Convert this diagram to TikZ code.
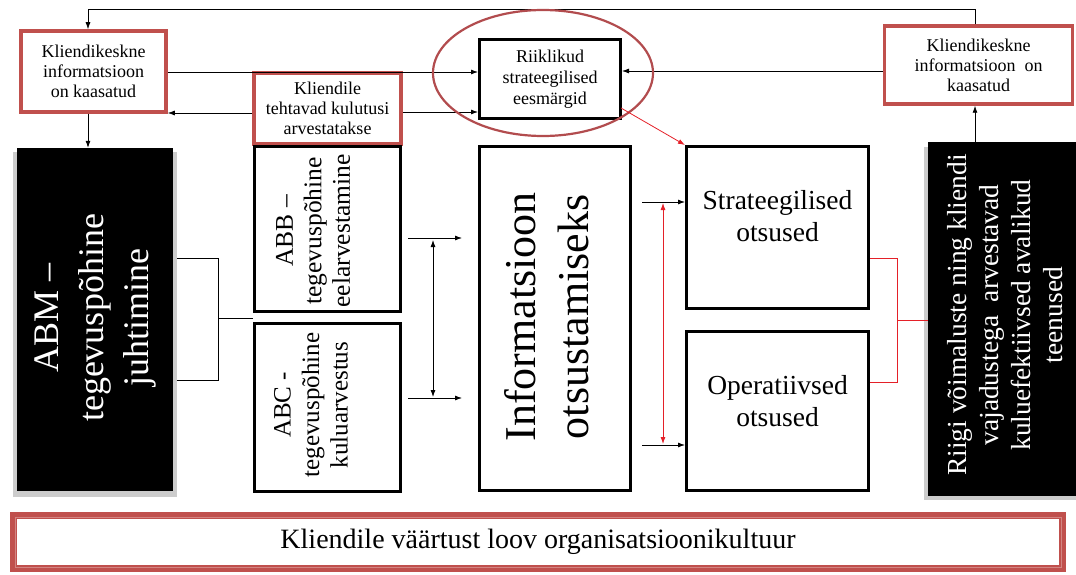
\documentclass[tikz,border=0pt]{standalone}
\usepackage{fontspec}
\setmainfont{Liberation Serif}
\usetikzlibrary{arrows.meta,shapes.geometric}
\definecolor{boxred}{RGB}{192,80,77}
\definecolor{ringred}{RGB}{178,76,78}
\definecolor{linkred}{RGB}{228,32,40}
\begin{document}
\begin{tikzpicture}[x=1pt,y=-1pt,
  redbox/.style={draw=boxred,line width=3.5pt,fill=white,align=center,inner sep=0pt,
    font=\fontsize{18}{20}\selectfont},
  blkbox/.style={draw=black,line width=3pt,fill=white,inner sep=0pt,align=center},
  darkbox/.style={draw=black,fill=black,inner sep=0pt},
  boxshade/.style={fill=black!20,draw=none},
  vtext/.style={rotate=90,align=center,inner sep=0pt},
  tip/.style={-{Latex[length=7pt,width=5pt]}},
  flow/.style={line width=0.8pt,tip},
  twoway/.style={line width=0.8pt,{Latex[length=7pt,width=5pt]}-{Latex[length=7pt,width=5pt]}},
  tie/.style={line width=0.8pt},
  redtie/.style={draw=linkred,line width=0.8pt},
  redtwoway/.style={draw=linkred,line width=0.8pt,
    {Latex[length=7pt,width=5pt]}-{Latex[length=7pt,width=5pt]}}
]
\useasboundingbox (0,0) rectangle (1076,575);

% ---------- top row ----------
\node[redbox,minimum width=145,minimum height=81] (lbox) at (93.5,71.5)
  {Kliendikeskne\\informatsioon\\on kaasatud};
\node[redbox,minimum width=188,minimum height=78] (rbox) at (978.5,65)
  {Kliendikeskne\\informatsioon\ \ on\\kaasatud};

% ---------- middle row: black boxes with shadows ----------
\fill[boxshade] (13,152) rectangle (177,497);
\node[darkbox,minimum width=155,minimum height=342] (abm) at (94.5,319) {};
\node[vtext,text=white,font=\fontsize{36}{45}\selectfont] (abmT) at (95,318)
  {ABM --\\tegevuspõhine\\juhtimine};

\fill[boxshade] (924,147) rectangle (1076,500);
\node[darkbox,minimum width=147,minimum height=353] (rblk) at (1001.5,318.5) {};
\node[vtext,text=white,font=\fontsize{27.5}{32}\selectfont] (rblkT) at (1005,315)
  {Riigi võimaluste ning kliendi\\vajadustega\ \ arvestavad\\kuluefektiivsed avalikud\\teenused};

% ---------- connectors (drawn under the boxes) ----------
\coordinate (topR) at (975,9);
\coordinate (topL) at (88,9);
\draw[flow] (rbox.north -| topR) -- (topR) -- (topL) -- (lbox.north -| topL);
\draw[flow] (lbox.south -| topL) -- (abm.north -| topL);

\node[redbox,minimum width=147,minimum height=71] (kbox) at (327.5,108.5)
  {Kliendile\\tehtavad kulutusi\\arvestatakse};
\node[blkbox,minimum width=141,minimum height=79,font=\fontsize{18}{21}\selectfont] (riik) at (550,79)
  {Riiklikud\\strateegilised\\eesmärgid};

\draw[flow] (lbox.east |- 0,72) -- (riik.west |- 0,72);
\draw[flow] (kbox.west |- 0,113) -- (lbox.east |- 0,113);
\draw[flow] (kbox.east |- 0,112) -- (riik.west |- 0,112);
\draw[flow] (rbox.west |- 0,71) -- (riik.east |- 0,71);
\draw[flow] (rblk.north -| topR) -- (rbox.south -| topR);

% ring round the national goals
\node[draw=ringred,line width=2.2pt,ellipse,minimum width=220,minimum height=126] (ring) at (543,73) {};

% ---------- activity based boxes ----------
\node[blkbox,minimum width=146,minimum height=165] (abb) at (327.5,229) {};
\node[vtext,font=\fontsize{25.5}{28.5}\selectfont] (abbT) at (313,231)
  {ABB --\\tegevuspõhine\\eelarvestamine};
\node[blkbox,minimum width=146,minimum height=168] (abc) at (327.5,407.5) {};
\node[vtext,font=\fontsize{25}{28.5}\selectfont] (abcT) at (311,405)
  {ABC -\\tegevuspõhine\\kuluarvestus};

\node[blkbox,minimum width=151,minimum height=344] (info) at (555,318.5) {};
\node[vtext,font=\fontsize{44}{53}\selectfont] (infoT) at (547,317)
  {Informatsioon\\otsustamiseks};

\node[blkbox,minimum width=182,minimum height=162] (strat) at (777.5,227.5) {};
\node[align=center,font=\fontsize{27.5}{32}\selectfont,inner sep=0pt] (stratT) at (777.5,216)
  {Strateegilised\\otsused};
\node[blkbox,minimum width=182,minimum height=159] (oper) at (777.5,411) {};
\node[align=center,font=\fontsize{27.5}{32}\selectfont,inner sep=0pt] (operT) at (777.5,401)
  {Operatiivsed\\otsused};

% bracket from ABM to the ABB/ABC pair
\coordinate (bk) at (218,318);
\coordinate (pairgap) at (253,318);
\draw[tie] (177,258) -- (bk |- 0,258) -- (bk |- 0,380) -- (177,380);
\draw[tie] (bk) -- (pairgap);

% ABB/ABC -> information
\coordinate (a1) at (408,238);
\coordinate (a2) at (408,398);
\coordinate (a1e) at (462,238);
\coordinate (a2e) at (462,398);
\draw[flow] (a1) -- (a1e);
\draw[flow] (a2) -- (a2e);
\draw[twoway] (433,240) -- (433,397);

% information -> decisions
\coordinate (d1) at (642,202);
\coordinate (d2) at (642,445);
\draw[flow] (d1) -- (strat.west |- d1);
\draw[flow] (d2) -- (oper.west |- d2);
\draw[redtwoway] (663,203) -- (663,444);

% national goals -> strategic decisions
\draw[redtie,tip,draw=linkred] (621,108) -- (strat.north west);

% decisions -> public services
\coordinate (rb) at (897,320);
\draw[redtie] (strat.east |- 0,258) -- (rb |- 0,258) -- (rb |- 0,382) -- (oper.east |- 0,382);
\draw[redtie] (rb) -- (rblk.west |- rb);

% ---------- bottom banner ----------
\node[draw=boxred,line width=7pt,minimum width=1049,minimum height=53,inner sep=0pt,
  font=\fontsize{28}{32}\selectfont] (culture) at (538,542)
  {Kliendile väärtust loov organisatsioonikultuur};
\draw[boxred!70,line width=0.6pt] ([shift={(5,-5)}]culture.south west) rectangle ([shift={(-5,5)}]culture.north east);
\end{tikzpicture}
\end{document}
